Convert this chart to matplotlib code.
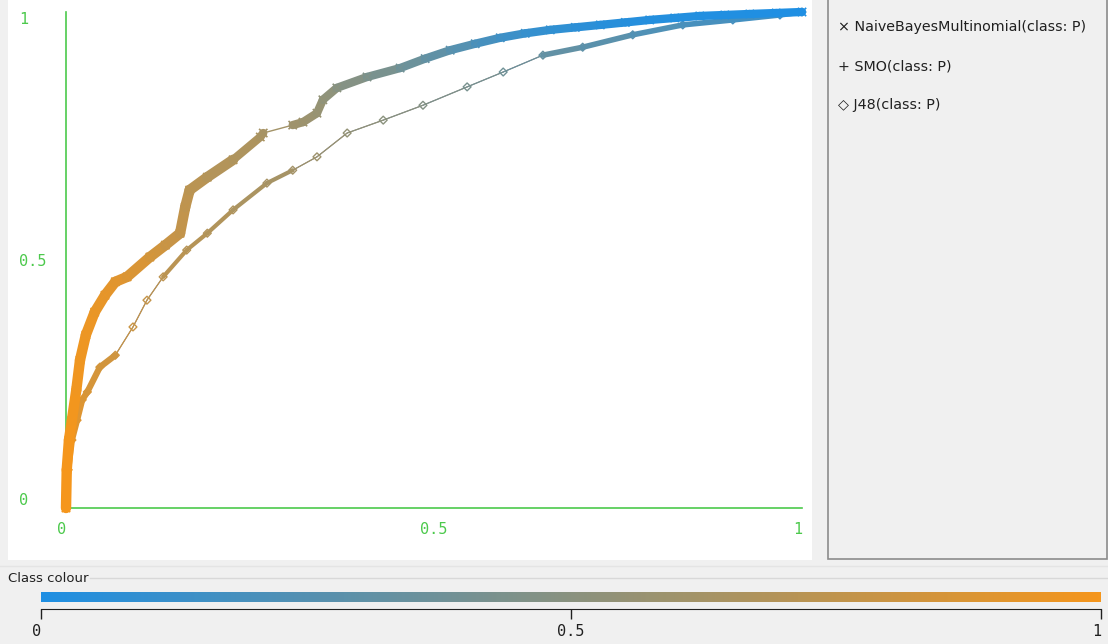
import numpy as np
import matplotlib
matplotlib.use("Agg")
from matplotlib import pyplot as plt
from matplotlib.collections import LineCollection
from matplotlib.colors import LinearSegmentedColormap
from matplotlib.patches import Rectangle
from matplotlib.lines import Line2D

# ROC points (false positive rate, true positive rate) and threshold per point
nb_fpr = [0.0, 0.001, 0.004, 0.008, 0.014, 0.019, 0.027, 0.039, 0.053, 0.067, 0.083,
          0.114, 0.135, 0.155, 0.162, 0.168, 0.192, 0.227, 0.264, 0.268, 0.308, 0.322,
          0.341, 0.349, 0.368, 0.409, 0.454, 0.488, 0.522, 0.556, 0.59, 0.624, 0.658,
          0.692, 0.726, 0.76, 0.793, 0.827, 0.861, 0.895, 0.929, 0.965, 1.0]
nb_tpr = [0.0, 0.077, 0.137, 0.177, 0.238, 0.298, 0.349, 0.395, 0.429, 0.456, 0.466,
          0.506, 0.53, 0.554, 0.607, 0.641, 0.667, 0.702, 0.748, 0.756, 0.772, 0.778,
          0.796, 0.823, 0.847, 0.869, 0.887, 0.906, 0.923, 0.936, 0.948, 0.957, 0.964,
          0.969, 0.974, 0.979, 0.984, 0.988, 0.992, 0.994, 0.996, 0.998, 1.0]
nb_thr = [1.0, 1.0, 1.0, 0.99, 0.98, 0.97, 0.96, 0.95, 0.93, 0.91, 0.89,
          0.85, 0.8, 0.77, 0.75, 0.73, 0.7, 0.68, 0.65, 0.63, 0.6, 0.59,
          0.57, 0.54, 0.5, 0.45, 0.39, 0.33, 0.28, 0.22, 0.16, 0.12, 0.09,
          0.07, 0.05, 0.04, 0.03, 0.02, 0.02, 0.01, 0.01, 0.0, 0.0]

j48_fpr = [0.0, 0.003, 0.008, 0.015, 0.022, 0.029, 0.046, 0.067, 0.091, 0.11, 0.132,
           0.164, 0.192, 0.227, 0.273, 0.308, 0.341, 0.382, 0.431, 0.485, 0.545, 0.594,
           0.648, 0.702, 0.77, 0.838, 0.906, 0.97, 1.0]
j48_tpr = [0.0, 0.077, 0.137, 0.177, 0.218, 0.234, 0.284, 0.308, 0.365, 0.419, 0.466,
           0.52, 0.554, 0.601, 0.655, 0.681, 0.708, 0.756, 0.782, 0.812, 0.849, 0.879,
           0.913, 0.929, 0.954, 0.974, 0.984, 0.994, 1.0]
j48_thr = [1.0, 0.95, 0.92, 0.9, 0.88, 0.86, 0.84, 0.82, 0.8, 0.77, 0.74,
           0.71, 0.69, 0.67, 0.64, 0.62, 0.59, 0.55, 0.51, 0.47, 0.42, 0.38,
           0.33, 0.3, 0.25, 0.21, 0.18, 0.16, 0.15]

legend_names = ["NaiveBayesMultinomial(class: P)", "SMO(class: P)", "J48(class: P)"]
legend_marks = ["\u00d7", "+", "\u25c7"]
axis_ticks = [0, 0.5, 1]
axis_labels = ["0", "0.5", "1"]

W, H = 1108, 644
GREEN = "#4cc94c"
cmap = LinearSegmentedColormap.from_list("cls", ["#1f8fe3", "#f5961c"])


def box(x0, y0, x1, y1):
    return [x0 / W, 1 - y1 / H, (x1 - x0) / W, (y1 - y0) / H]


def segments(x, y):
    pts = np.column_stack([x, y])
    return np.stack([pts[:-1], pts[1:]], axis=1)


fig = plt.figure(figsize=(W / 100, H / 100), dpi=100, facecolor="#f0f0f0")

# white plot panel and grey legend panel (behind the axes)
fig.add_artist(Rectangle((8 / W, 1 - 560 / H), 804 / W, 560 / H,
                         transform=fig.transFigure, facecolor="white", edgecolor="none",
                         zorder=-5))
fig.add_artist(Rectangle((828 / W, 1 - 559 / H), 279 / W, 560 / H,
                         transform=fig.transFigure, facecolor="#f0f0f0",
                         edgecolor="#8c8c8c", linewidth=1.2, zorder=-5))

ax = fig.add_axes(box(66, 12, 802, 508))
ax.set_facecolor("none")
ax.set_xlim(0, 1)
ax.set_ylim(0, 1)
for s in ["top", "right"]:
    ax.spines[s].set_visible(False)
for s in ["left", "bottom"]:
    ax.spines[s].set_color(GREEN)
    ax.spines[s].set_linewidth(1.2)

mono = {"family": "DejaVu Sans Mono", "size": 11}
ax.set_xticks(axis_ticks)
ax.set_xticklabels(axis_labels, color=GREEN, fontdict=mono)
ax.set_yticks(axis_ticks)
ax.set_yticklabels(axis_labels, color=GREEN, fontdict=mono)
ax.tick_params(length=0)
ax.tick_params(axis="x", pad=10)
ax.tick_params(axis="y", pad=34)
for lab in ax.get_yticklabels():
    lab.set_horizontalalignment("left")
ax.get_yticklabels()[0].set_verticalalignment("bottom")
ax.get_yticklabels()[2].set_verticalalignment("top")
ax.get_xticklabels()[0].set_horizontalalignment("right")
ax.get_xticklabels()[2].set_horizontalalignment("right")
ax.set_xticks([0.5], minor=True)
ax.set_yticks([0.5], minor=True)
ax.tick_params(axis="x", which="minor", direction="in", length=5, color=GREEN)
ax.tick_params(axis="y", which="minor", direction="out", length=5, color=GREEN)

# J48: thin grey line with diamonds, thicker where points are dense
j48_seg = segments(j48_fpr, j48_tpr)
j48_mid = (np.array(j48_thr[:-1]) + np.array(j48_thr[1:])) / 2
j48_lw = []
for i in range(len(j48_seg)):
    if i < 7:
        j48_lw.append(4.5)
    elif 10 <= i <= 14:
        j48_lw.append(3.0)
    elif i >= 22:
        j48_lw.append(4.0)
    else:
        j48_lw.append(0.8)
ax.plot(j48_fpr, j48_tpr, color="#7f7f7f", lw=0.8, clip_on=False, zorder=2)
lc = LineCollection(j48_seg, colors=cmap(j48_mid), linewidths=j48_lw,
                    capstyle="round", clip_on=False, zorder=3)
ax.add_collection(lc)
ax.scatter(j48_fpr, j48_tpr, marker="D", s=16, facecolors="none",
           edgecolors=cmap(np.array(j48_thr)), linewidths=1.0, clip_on=False, zorder=4)

# NaiveBayesMultinomial: dense thick curve
nb_seg = segments(nb_fpr, nb_tpr)
nb_mid = (np.array(nb_thr[:-1]) + np.array(nb_thr[1:])) / 2
nb_lw = [1.0 if i == 19 else (7.5 if nb_fpr[i] < 0.2 else 6.0) for i in range(len(nb_seg))]
lc = LineCollection(nb_seg, colors=cmap(nb_mid), linewidths=nb_lw,
                    capstyle="round", clip_on=False, zorder=5)
ax.add_collection(lc)
ax.scatter(nb_fpr, nb_tpr, marker="x", s=36, c=nb_thr, cmap=cmap, vmin=0, vmax=1,
           linewidths=1.2, clip_on=False, zorder=6)

# legend panel entries
for i, (m, name) in enumerate(zip(legend_marks, legend_names)):
    fig.text(838 / W, 1 - (27 + 39 * i) / H, m + " " + name, fontsize=10.3,
             color="#202020", va="center", ha="left")

# class colour bar
fig.text(8 / W, 1 - 578 / H, "Class colour", fontsize=9.5, color="#202020",
         va="center", ha="left")
fig.add_artist(Line2D([90 / W, 1], [1 - 578 / H, 1 - 578 / H],
                      transform=fig.transFigure, color="#d8d8d8", lw=1))
fig.add_artist(Line2D([0, 1], [1 - 566 / H, 1 - 566 / H],
                      transform=fig.transFigure, color="#e4e4e4", lw=1))

cax = fig.add_axes(box(41, 592, 1101, 609))
cax.imshow(np.linspace(0, 1, 512)[np.newaxis, :], cmap=cmap, aspect="auto",
           extent=(0, 1, 0.4, 1))
cax.set_xlim(0, 1)
cax.set_ylim(0, 1)
cax.set_facecolor("none")
for s in ["top", "right", "left"]:
    cax.spines[s].set_visible(False)
cax.spines["bottom"].set_color("#202020")
cax.set_yticks([])
cax.set_xticks(axis_ticks)
cax.set_xticklabels(axis_labels, fontdict=mono, color="#202020")
cax.tick_params(axis="x", direction="out", length=7, width=1, color="#202020", pad=4)
cax.get_xticklabels()[0].set_horizontalalignment("right")
cax.get_xticklabels()[2].set_horizontalalignment("right")

fig.savefig("out.png", dpi=100, facecolor=fig.get_facecolor())
